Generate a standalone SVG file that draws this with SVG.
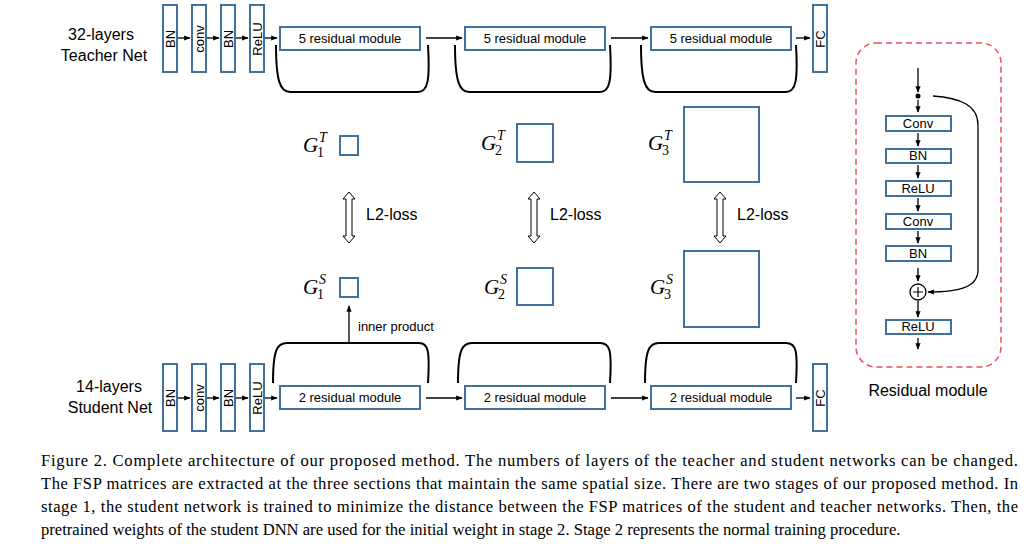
<svg xmlns="http://www.w3.org/2000/svg" width="1030" height="544" viewBox="0 0 1030 544">
<defs>
<marker id="ah" viewBox="0 0 10 10" refX="9" refY="5" markerWidth="5" markerHeight="5" orient="auto"><path d="M0,1 L10,5 L0,9 z" fill="#000"/></marker>
<style>
.bx{fill:#fff;stroke:#41719c;stroke-width:2}
.t{font-family:"Liberation Sans",Arial,sans-serif;font-size:13px;fill:#000}
.lb{font-family:"Liberation Sans",Arial,sans-serif;font-size:16px;fill:#000}
.ln{stroke:#000;stroke-width:1.3;fill:none}
.br{stroke:#000;stroke-width:2;fill:none}
.g{font-family:"Liberation Serif",serif;font-style:italic;font-size:21px}
.gs{font-family:"Liberation Serif",serif;font-size:14px}
.gi{font-family:"Liberation Serif",serif;font-style:italic;font-size:14px}
.cap{font-family:"Liberation Serif","Times New Roman",serif;font-size:16.6px;fill:#000}
.dbl{fill:#fff;stroke:#000;stroke-width:1}
</style>
</defs>
<rect width="1030" height="544" fill="#fff"/>
<g id="teacher-label"><text class="lb" x="101" y="40" text-anchor="middle" font-size="16">32-layers</text><text class="lb" x="104" y="61" text-anchor="middle" font-size="18.5">Teacher Net</text></g>
<g id="student-label"><text class="lb" x="109" y="392" text-anchor="middle" font-size="16">14-layers</text><text class="lb" x="110" y="413" text-anchor="middle" font-size="18.5">Student Net</text></g>
<g id="teacher-layers">
<rect class="bx" x="163" y="5" width="14" height="67"/><text class="t" transform="translate(175,39) rotate(-90)" text-anchor="middle">BN</text>
<rect class="bx" x="192" y="5" width="14" height="67"/><text class="t" transform="translate(204,39) rotate(-90)" text-anchor="middle">conv</text>
<rect class="bx" x="221" y="5" width="14" height="67"/><text class="t" transform="translate(233,39) rotate(-90)" text-anchor="middle">BN</text>
<rect class="bx" x="250" y="5" width="14" height="67"/><text class="t" transform="translate(262,39) rotate(-90)" text-anchor="middle">ReLU</text>
<rect class="bx" x="280" y="27" width="140" height="23"/><text class="t" x="350" y="43" text-anchor="middle">5 residual module</text>
<rect class="bx" x="465" y="27" width="140" height="23"/><text class="t" x="535" y="43" text-anchor="middle">5 residual module</text>
<rect class="bx" x="651" y="27" width="140" height="23"/><text class="t" x="721" y="43" text-anchor="middle">5 residual module</text>
<rect class="bx" x="813" y="5" width="14" height="67"/><text class="t" transform="translate(825,39) rotate(-90)" text-anchor="middle">FC</text>
</g>
<g id="student-layers">
<rect class="bx" x="163" y="364" width="14" height="67"/><text class="t" transform="translate(175,398) rotate(-90)" text-anchor="middle">BN</text>
<rect class="bx" x="192" y="364" width="14" height="67"/><text class="t" transform="translate(204,398) rotate(-90)" text-anchor="middle">conv</text>
<rect class="bx" x="221" y="364" width="14" height="67"/><text class="t" transform="translate(233,398) rotate(-90)" text-anchor="middle">BN</text>
<rect class="bx" x="250" y="364" width="14" height="67"/><text class="t" transform="translate(262,398) rotate(-90)" text-anchor="middle">ReLU</text>
<rect class="bx" x="280" y="386" width="140" height="23"/><text class="t" x="350" y="402" text-anchor="middle">2 residual module</text>
<rect class="bx" x="465" y="386" width="140" height="23"/><text class="t" x="535" y="402" text-anchor="middle">2 residual module</text>
<rect class="bx" x="651" y="386" width="140" height="23"/><text class="t" x="721" y="402" text-anchor="middle">2 residual module</text>
<rect class="bx" x="813" y="364" width="14" height="67"/><text class="t" transform="translate(825,398) rotate(-90)" text-anchor="middle">FC</text>
</g>
<g id="connectors">
<line class="ln" marker-end="url(#ah)" x1="178" y1="38" x2="190" y2="38"/>
<line class="ln" marker-end="url(#ah)" x1="207" y1="38" x2="219" y2="38"/>
<line class="ln" marker-end="url(#ah)" x1="236" y1="38" x2="248" y2="38"/>
<line class="ln" marker-end="url(#ah)" x1="265" y1="38" x2="277" y2="38"/>
<line class="ln" marker-end="url(#ah)" x1="426" y1="38" x2="462" y2="38"/>
<line class="ln" marker-end="url(#ah)" x1="611" y1="38" x2="648" y2="38"/>
<line class="ln" marker-end="url(#ah)" x1="796" y1="38" x2="810" y2="38"/>
<line class="ln" marker-end="url(#ah)" x1="178" y1="398" x2="190" y2="398"/>
<line class="ln" marker-end="url(#ah)" x1="207" y1="398" x2="219" y2="398"/>
<line class="ln" marker-end="url(#ah)" x1="236" y1="398" x2="248" y2="398"/>
<line class="ln" marker-end="url(#ah)" x1="265" y1="398" x2="277" y2="398"/>
<line class="ln" marker-end="url(#ah)" x1="426" y1="398" x2="462" y2="398"/>
<line class="ln" marker-end="url(#ah)" x1="611" y1="398" x2="648" y2="398"/>
<line class="ln" marker-end="url(#ah)" x1="796" y1="398" x2="810" y2="398"/>
<path class="br" d="M276,45C276,80 280,92 290,92H418C428,92 430,80 428,45"/>
<path class="br" d="M455,45C455,80 459,92 469,92H600C610,92 612,80 610,45"/>
<path class="br" d="M641,45C641,80 645,92 655,92H786C796,92 798,80 796,45"/>
<path class="br" d="M273,383C273,350 277,343 287,343H419C428,343 430,350 428,383"/>
<path class="br" d="M458,383C458,350 462,343 472,343H600C610,343 612,350 610,383"/>
<path class="br" d="M645,383C645,350 649,343 659,343H786C796,343 798,350 796,383"/>
<line class="ln" marker-end="url(#ah)" x1="349" y1="343" x2="349" y2="306"/>
<path class="dbl" d="M349,192L355,199H352V236H355L349,243L343,236H346V199H343Z"/>
<path class="dbl" d="M534,192L540,199H537V236H540L534,243L528,236H531V199H528Z"/>
<path class="dbl" d="M720,192L726,199H723V236H726L720,243L714,236H717V199H714Z"/>
</g>
<text class="t" x="358" y="331">inner product</text>
<text class="lb" x="366" y="220" font-size="14">L2-loss</text>
<text class="lb" x="550" y="220" font-size="14">L2-loss</text>
<text class="lb" x="737" y="220" font-size="14">L2-loss</text>
<g id="gram">
<rect class="bx" x="340" y="136" width="18" height="19" stroke-width="2.5"/>
<rect class="bx" x="517" y="124" width="36" height="38" stroke-width="2.5"/>
<rect class="bx" x="684" y="107" width="75" height="75" stroke-width="2.5"/>
<rect class="bx" x="340" y="278" width="18" height="19" stroke-width="2.5"/>
<rect class="bx" x="517" y="268" width="36" height="37" stroke-width="2.5"/>
<rect class="bx" x="684" y="251" width="75" height="76" stroke-width="2.5"/>
<text class="g" x="303" y="152">G</text><text class="gs" x="317" y="157">1</text><text class="gi" x="319" y="142">T</text>
<text class="g" x="481" y="150">G</text><text class="gs" x="495" y="155">2</text><text class="gi" x="497" y="140">T</text>
<text class="g" x="648" y="150">G</text><text class="gs" x="662" y="155">3</text><text class="gi" x="664" y="140">T</text>
<text class="g" x="303" y="294">G</text><text class="gs" x="317" y="299">1</text><text class="gi" x="319" y="284">S</text>
<text class="g" x="484" y="294">G</text><text class="gs" x="498" y="299">2</text><text class="gi" x="500" y="284">S</text>
<text class="g" x="650" y="294">G</text><text class="gs" x="664" y="299">3</text><text class="gi" x="666" y="284">S</text>
</g>
<g id="residual-module">
<rect x="856" y="43" width="145" height="324" rx="20" fill="none" stroke="#e8505f" stroke-width="1.5" stroke-dasharray="6,4"/>
<rect class="bx" x="886" y="116" width="65" height="15" stroke-width="1.5"/><text class="t" x="918" y="128" text-anchor="middle">Conv</text>
<rect class="bx" x="886" y="149" width="65" height="14" stroke-width="1.5"/><text class="t" x="918" y="160" text-anchor="middle">BN</text>
<rect class="bx" x="886" y="181" width="65" height="15" stroke-width="1.5"/><text class="t" x="918" y="193" text-anchor="middle">ReLU</text>
<rect class="bx" x="886" y="214" width="65" height="15" stroke-width="1.5"/><text class="t" x="918" y="226" text-anchor="middle">Conv</text>
<rect class="bx" x="886" y="246" width="65" height="15" stroke-width="1.5"/><text class="t" x="918" y="258" text-anchor="middle">BN</text>
<circle cx="918" cy="292" r="8" fill="#fff" stroke="#000" stroke-width="1.3"/><path d="M913,292H923M918,287V297" stroke="#000" stroke-width="1.2"/>
<rect class="bx" x="886" y="320" width="65" height="14" stroke-width="1.5"/><text class="t" x="918" y="331" text-anchor="middle">ReLU</text>
<circle cx="918" cy="96" r="2.5" fill="#000"/>
<line class="ln" marker-end="url(#ah)" x1="918" y1="68" x2="918" y2="92"/>
<line class="ln" marker-end="url(#ah)" x1="918" y1="100" x2="918" y2="112"/>
<line class="ln" marker-end="url(#ah)" x1="918" y1="133" x2="918" y2="146"/>
<line class="ln" marker-end="url(#ah)" x1="918" y1="165" x2="918" y2="178"/>
<line class="ln" marker-end="url(#ah)" x1="918" y1="198" x2="918" y2="211"/>
<line class="ln" marker-end="url(#ah)" x1="918" y1="231" x2="918" y2="243"/>
<line class="ln" marker-end="url(#ah)" x1="918" y1="268" x2="918" y2="281"/>
<line class="ln" marker-end="url(#ah)" x1="918" y1="301" x2="918" y2="317"/>
<line class="ln" marker-end="url(#ah)" x1="918" y1="338" x2="918" y2="349"/>
<path class="ln" marker-end="url(#ah)" d="M933,96C960,98 978,105 978,125V270C978,287 960,292 928,292"/>
<text class="lb" x="928" y="396" text-anchor="middle" font-size="15">Residual module</text>
</g>
<g id="caption">
<text class="cap" x="41" y="466" textLength="977" lengthAdjust="spacing">Figure 2. Complete architecture of our proposed method.  The numbers of layers of the teacher and student networks can be changed.</text>
<text class="cap" x="41" y="489" textLength="977" lengthAdjust="spacing">The FSP matrices are extracted at the three sections that maintain the same spatial size. There are two stages of our proposed method. In</text>
<text class="cap" x="41" y="512" textLength="977" lengthAdjust="spacing">stage 1, the student network is trained to minimize the distance between the FSP matrices of the student and teacher networks. Then, the</text>
<text class="cap" x="41" y="535">pretrained weights of the student DNN are used for the initial weight in stage 2. Stage 2 represents the normal training procedure.</text>
</g>
</svg>
